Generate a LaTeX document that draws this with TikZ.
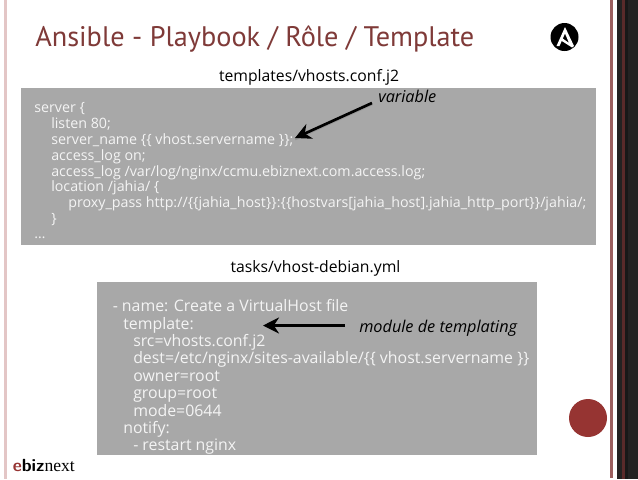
\documentclass[tikz,border=0pt]{standalone}
\usepackage{fontspec}
\setmainfont{Open Sans}
\newfontfamily\titlefont{PT Sans}
\newfontfamily\serifnext{Liberation Serif}
\usetikzlibrary{arrows.meta}
\definecolor{barpink}{HTML}{E3C6C6}
\definecolor{barred}{HTML}{9C5F5F}
\definecolor{darkband}{HTML}{242222}
\definecolor{bandred}{HTML}{5A2A2A}
\definecolor{titlered}{HTML}{7F3A38}
\definecolor{boxgray}{HTML}{A8A8A8}
\definecolor{dotred}{HTML}{963432}
\definecolor{codewhite}{HTML}{F4F4F4}
\tikzset{
  x=0.75pt,y=-0.75pt,
  codeline/.style={anchor=base west,inner sep=0pt,text=codewhite,font=\fontsize{10.7pt}{12pt}\selectfont},
  codelineb/.style={anchor=base west,inner sep=0pt,text=codewhite,font=\fontsize{11.9pt}{14pt}\selectfont},
  filelabel/.style={anchor=base,inner sep=0pt,text=black,font=\fontsize{11.8pt}{14pt}\selectfont},
  remark/.style={anchor=base west,inner sep=0pt,text=black,font=\fontsize{12.2pt}{14pt}\selectfont\itshape},
  grayblock/.style={fill=boxgray,draw=none},
  pointer/.style={line width=2pt,black,-{Stealth[length=12pt,width=12pt]}},
  pointershadow/.style={line width=2pt,black!45,opacity=.6}
}
\begin{document}
\begin{tikzpicture}
\useasboundingbox (0,0) rectangle (638,479);
\fill[white] (0,0) rectangle (638,479);
% frame bars
\fill[barpink] (3.5,0) rectangle (7,479);
\fill[barred] (610,0) rectangle (612.5,478);
\fill[darkband] (617,0) rectangle (638,479);
\fill[bandred] (622,0) rectangle (624.5,479);
\fill[black!30!darkband] (624.5,0) rectangle (627.5,479);
% title
\node[anchor=base west,inner sep=0pt,text=titlered,font=\titlefont\fontsize{21.2pt}{25pt}\selectfont] (title) at (35,46) {Ansible - Playbook / Rôle / Template};
% ansible logo
\fill[black] (564.5,37) circle (14);
\fill[white] (565,27) -- (556.5,46) -- (559.5,46) -- (565,33.5) -- (569,43) -- (562,38) -- (561,40.5) -- (572,47.5) -- (574,46) -- cycle;
% blocks
\fill[grayblock] (21,88) rectangle (596,245);
\fill[grayblock] (97,282) rectangle (537,455);
\node[filelabel] (file1) at (309,81) {templates/vhosts.conf.j2};
\node[filelabel] (file2) at (315.5,272.5) {tasks/vhost-debian.yml};
% first code block
\node[codeline] (a1) at (34,112) {server \{};
\node[codeline] (a2) at (51,128) {listen 80;};
\node[codeline] (a3) at (51,144) {server\_name \{\{ vhost.servername \}\};};
\node[codeline] (a4) at (51,160) {access\_log on;};
\node[codeline] (a5) at (51,176) {access\_log /var/log/nginx/ccmu.ebiznext.com.access.log;};
\node[codeline] (a6) at (51,191.5) {location /jahia/ \{};
\node[codeline] (a7) at (68,207) {proxy\_pass http://\{\{jahia\_host\}\}:\{\{hostvars[jahia\_host].jahia\_http\_port\}\}/jahia/;};
\node[codeline] (a8) at (51,223) {\}};
\node[codeline] (a9) at (34,238.5) {…};
% second code block
\node[codelineb] (b1) at (112.5,311.5) {- name: Create a VirtualHost file};
\node[codelineb] (b2) at (123,329) {template:};
\node[codelineb] (b3) at (133,346.3) {src=vhosts.conf.j2};
\node[codelineb] (b4) at (133,363.7) {dest=/etc/nginx/sites-available/\{\{ vhost.servername \}\}};
\node[codelineb] (b5) at (133,381) {owner=root};
\node[codelineb] (b6) at (133,398.5) {group=root};
\node[codelineb] (b7) at (133,416) {mode=0644};
\node[codelineb] (b8) at (123,433.3) {notify:};
\node[codelineb] (b9) at (133,450.7) {- restart nginx};
% remarks
\node[remark] (var) at (378,102.3) {variable};
\node[remark] (mod) at (359,332.3) {module de templating};
% pointers
\coordinate (varstart) at (372,103);
\coordinate (varend) at (295,138);
\coordinate (modstart) at (345,325.5);
\coordinate (modend) at (263,325.5);
\draw[pointershadow] ([yshift=-0.8pt]varstart) -- ([yshift=-0.8pt]varend);
\draw[pointer] (varstart) -- (varend);
\draw[pointer] (modstart) -- (modend);
% red dot
\fill[dotred] (588,418) circle (19);
% ebiznext mark
\node[anchor=base west,inner sep=0pt,font=\fontsize{13.2pt}{15pt}\selectfont] (brand) at (12.5,471.5) {{\sffamily\bfseries\color{dotred}e}{\sffamily\bfseries biz}{\serifnext next}};
\end{tikzpicture}
\end{document}
